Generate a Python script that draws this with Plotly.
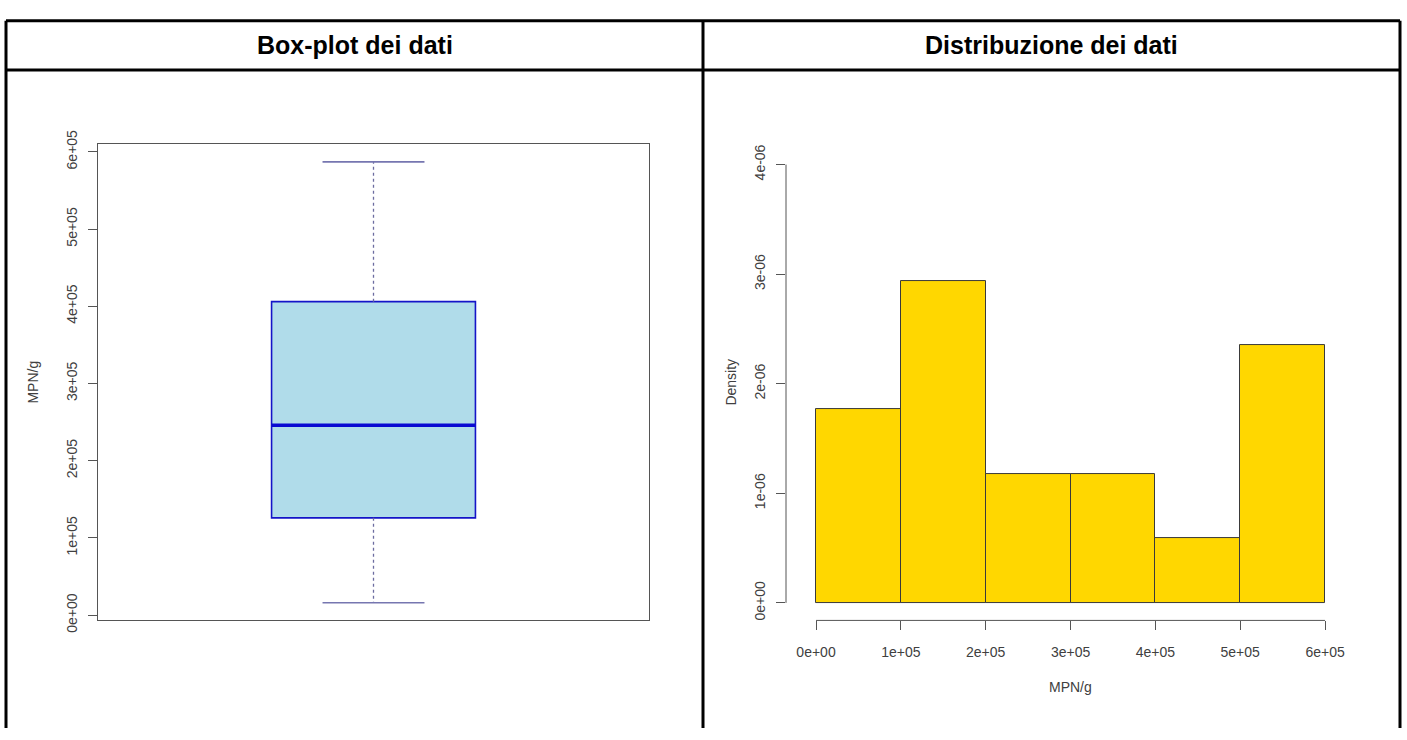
import plotly.graph_objects as go

W, H = 1407, 740

# ---- data -------------------------------------------------------------
panel_titles = ["Box-plot dei dati", "Distribuzione dei dati"]
value_label = "MPN/g"
density_label = "Density"

# five-number summary of the MPN/g values (whisker ends, hinges, median)
box_whisker_low = 16000
box_q1 = 126000
box_median = 246000
box_q3 = 406000
box_whisker_high = 587000

# histogram of the same values
bin_edges = [0, 100000, 200000, 300000, 400000, 500000, 600000]
bin_counts = [3, 5, 2, 2, 1, 4]

value_ticks = [0, 100000, 200000, 300000, 400000, 500000, 600000]
value_tick_labels = ["0e+00", "1e+05", "2e+05", "3e+05", "4e+05", "5e+05", "6e+05"]
density_ticks = [0, 1e-6, 2e-6, 3e-6, 4e-6]
density_tick_labels = ["0e+00", "1e-06", "2e-06", "3e-06", "4e-06"]
density_ylim = [0, 4e-6]

# ---- derived values ---------------------------------------------------
n_obs = sum(bin_counts)
bin_widths = [b - a for a, b in zip(bin_edges[:-1], bin_edges[1:])]
bin_mids = [(a + b) / 2 for a, b in zip(bin_edges[:-1], bin_edges[1:])]
densities = [c / (n_obs * w) for c, w in zip(bin_counts, bin_widths)]


def padded(lo, hi, frac_lo=0.04, frac_hi=0.04):
    span = hi - lo
    return [lo - frac_lo * span, hi + frac_hi * span]


def px(x):
    return x / W


def py(y):
    return 1 - y / H


FONT = "Liberation Sans, Arial, Helvetica, sans-serif"
AXIS_GREY = "#555555"
TEXT_GREY = "#404040"

BOX_HALF = 0.185
CAP_HALF = BOX_HALF / 2
BOX_BLUE = "#1414c8"

fig = go.Figure()

# box (hinges only; whiskers drawn dashed below)
fig.add_trace(go.Box(
    x=[1], q1=[box_q1], median=[box_median], q3=[box_q3],
    lowerfence=[box_q1], upperfence=[box_q3],
    width=2 * BOX_HALF,
    fillcolor="#b0dcea",
    line=dict(color=BOX_BLUE, width=1.6),
    xaxis="x", yaxis="y", showlegend=False, hoverinfo="skip",
))
# thick median
fig.add_trace(go.Scatter(
    x=[1 - BOX_HALF, 1 + BOX_HALF], y=[box_median, box_median],
    mode="lines", line=dict(color="#0a0ad2", width=3.5),
    xaxis="x", yaxis="y", showlegend=False, hoverinfo="skip",
))
# dashed whiskers
for a, b in [(box_q3, box_whisker_high), (box_q1, box_whisker_low)]:
    fig.add_trace(go.Scatter(
        x=[1, 1], y=[a, b], mode="lines",
        line=dict(color="#6c6ca0", width=1.3, dash="3px,3px"),
        xaxis="x", yaxis="y", showlegend=False, hoverinfo="skip",
    ))
# whisker caps
for v in [box_whisker_high, box_whisker_low]:
    fig.add_trace(go.Scatter(
        x=[1 - CAP_HALF, 1 + CAP_HALF], y=[v, v], mode="lines",
        line=dict(color="#7676b0", width=1.6),
        xaxis="x", yaxis="y", showlegend=False, hoverinfo="skip",
    ))

# histogram bars
fig.add_trace(go.Bar(
    x=bin_mids, y=densities, width=bin_widths,
    marker=dict(color="#ffd700", line=dict(color="#3a3a3a", width=1)),
    xaxis="x2", yaxis="y2", showlegend=False, hoverinfo="skip",
))

tickfont = dict(family=FONT, size=14, color=TEXT_GREY)

box_yrange = padded(box_whisker_low, box_whisker_high)
hist_xrange = padded(bin_edges[0], bin_edges[-1], 0.059, 0.04)
hist_yrange = padded(density_ylim[0], density_ylim[1])

fig.update_layout(
    width=W, height=H,
    margin=dict(l=0, r=0, t=0, b=0),
    paper_bgcolor="white", plot_bgcolor="white",
    bargap=0,
    xaxis=dict(
        domain=[px(98), px(649)], range=[0.5, 1.5], anchor="y",
        showticklabels=False, ticks="", showgrid=False, zeroline=False,
        showline=True, mirror=True, linecolor=AXIS_GREY, linewidth=1,
    ),
    yaxis=dict(
        domain=[py(628.5), py(135)], range=box_yrange, anchor="x",
        tickvals=value_ticks, ticktext=value_tick_labels, tickangle=-90,
        ticks="outside", ticklen=9, tickcolor=AXIS_GREY, tickfont=tickfont,
        ticklabelstandoff=5,
        showgrid=False, zeroline=False,
        showline=True, mirror=True, linecolor=AXIS_GREY, linewidth=1,
    ),
    xaxis2=dict(
        domain=[px(786), px(1345.4)], range=hist_xrange, anchor="y2",
        tickvals=value_ticks, ticktext=value_tick_labels,
        ticks="outside", ticklen=9, tickcolor=AXIS_GREY, tickfont=tickfont,
        ticklabelstandoff=10,
        showgrid=False, zeroline=False, showline=False,
    ),
    yaxis2=dict(
        domain=[py(628.5), py(137.9)], range=hist_yrange, anchor="x2",
        tickvals=density_ticks, ticktext=density_tick_labels, tickangle=-90,
        ticks="outside", ticklen=9, tickcolor=AXIS_GREY, tickfont=tickfont,
        ticklabelstandoff=5,
        showgrid=False, zeroline=False, showline=False,
    ),
)

shapes = [
    # histogram axis lines spanning first to last tick
    dict(type="line", xref="x2", yref="y2 domain",
         x0=value_ticks[0], x1=value_ticks[-1], y0=0, y1=0,
         line=dict(color=AXIS_GREY, width=1)),
    dict(type="line", xref="x2 domain", yref="y2",
         x0=0, x1=0, y0=density_ticks[0], y1=density_ticks[-1],
         line=dict(color=AXIS_GREY, width=1)),
]
# table rules
rule = dict(color="black", width=3)
for x0, y0, x1, y1 in [
    (6, 7, 1400, 7), (6, 58, 1400, 58),
    (6, 7, 6, 740), (703, 7, 703, 740), (1400, 7, 1400, 740),
]:
    shapes.append(dict(type="line", xref="paper", yref="paper",
                       x0=px(x0), y0=py(y0), x1=px(x1), y1=py(y1), line=rule))
fig.update_layout(shapes=shapes)

annotations = [
    dict(text=f"<b>{panel_titles[0]}</b>", x=px(354.5), y=py(32)),
    dict(text=f"<b>{panel_titles[1]}</b>", x=px(1051.5), y=py(32)),
]
for a in annotations:
    a.update(xref="paper", yref="paper", showarrow=False,
             xanchor="center", yanchor="middle",
             font=dict(family=FONT, size=25, color="black"))
axis_titles = [
    dict(text=value_label, x=px(33), y=py(382), textangle=-90),
    dict(text=density_label, x=px(731), y=py(382), textangle=-90),
    dict(text=value_label, x=px(1070), y=py(697), textangle=0),
]
for a in axis_titles:
    a.update(xref="paper", yref="paper", showarrow=False,
             xanchor="center", yanchor="middle",
             font=dict(family=FONT, size=14, color=TEXT_GREY))
fig.update_layout(annotations=annotations + axis_titles)

fig.write_html("out.html")
